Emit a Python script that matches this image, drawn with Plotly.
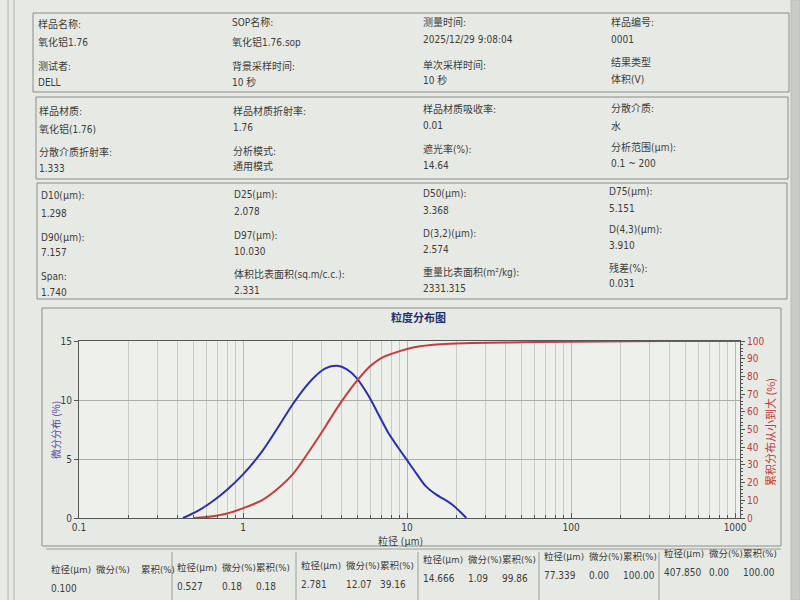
import re
import plotly.graph_objects as go

# ---------------- data ----------------
diff_x = [0.43, 0.53, 0.65, 0.8, 1.0, 1.3, 1.62, 2.0, 2.4, 2.8, 3.2, 3.75, 4.3, 4.9,
          5.8, 6.8, 7.7, 8.8, 10, 11.5, 13, 15, 17, 19, 21, 23]
diff_y = [0, 0.6, 1.4, 2.4, 3.7, 5.6, 7.6, 9.6, 11.1, 12.1, 12.7, 12.9, 12.6, 11.9,
          10.4, 8.6, 7.2, 6.0, 4.9, 3.7, 2.7, 2.0, 1.55, 1.1, 0.55, 0]

cum_x = [0.5, 0.6, 0.8, 1.0, 1.3, 1.6, 2.0, 2.5, 3.0, 3.4, 4.0, 5.0, 6.0, 7.0, 8.2,
         10, 12, 14, 17, 25, 50, 100, 400, 1250]
cum_y = [0, 0.5, 2.5, 5.5, 10, 16, 24.5, 37, 48, 56, 66, 78, 86, 90.5, 93,
         95.5, 97, 97.8, 98.3, 98.8, 99.3, 99.6, 100, 100]

x_tick_vals = [0.1, 1, 10, 100, 1000]
x_tick_text = ["0.1", "1", "10", "100", "1000"]

info_box1 = [
    ("样品名称:", "氧化铝1.76", "测试者:", "DELL"),
    ("SOP名称:", "氧化铝1.76.sop", "背景采样时间:", "10 秒"),
    ("测量时间:", "2025/12/29 9:08:04", "单次采样时间:", "10 秒"),
    ("样品编号:", "0001", "结果类型", "体积(V)"),
]
info_box2 = [
    ("样品材质:", "氧化铝(1.76)", "分散介质折射率:", "1.333"),
    ("样品材质折射率:", "1.76", "分析模式:", "通用模式"),
    ("样品材质吸收率:", "0.01", "遮光率(%):", "14.64"),
    ("分散介质:", "水", "分析范围(μm):", "0.1 ~ 200"),
]
info_box3 = [
    ("D10(μm):", "1.298", "D90(μm):", "7.157", "Span:", "1.740"),
    ("D25(μm):", "2.078", "D97(μm):", "10.030", "体积比表面积(sq.m/c.c.):", "2.331"),
    ("D50(μm):", "3.368", "D(3,2)(μm):", "2.574", "重量比表面积(m²/kg):", "2331.315"),
    ("D75(μm):", "5.151", "D(4,3)(μm):", "3.910", "残差(%):", "0.031"),
]
table_size = ["0.100", "0.527", "2.781", "14.666", "77.339", "407.850"]
table_diff = ["", "0.18", "12.07", "1.09", "0.00", "0.00"]
table_cum = ["", "0.18", "39.16", "99.86", "100.00", "100.00"]

# ---------------- helpers ----------------
W, H = 800, 600
def px(x):
    return x / W
def py(y):
    return 1 - y / H

CJK = "Noto Sans CJK SC"
NARROW = "'Liberation Sans Narrow','DejaVu Sans Condensed','Liberation Mono',monospace"
FONT = "Liberation Sans Narrow, DejaVu Sans Condensed, Noto Sans CJK SC, sans-serif"
TXT = "#3c3c3c"
annotations = []
shapes = []

def mixed(text, ascii_size):
    # narrow half-width ASCII next to full-width CJK, like the original report font
    parts = re.split(r"([\x20-\x7e²]+)", text)
    out = []
    for p in parts:
        if not p:
            continue
        if re.fullmatch(r"[\x20-\x7e²]+", p):
            out.append('<span style="font-family:%s;font-size:%spx">%s</span>' % (NARROW, ascii_size, p))
        else:
            out.append(p)
    return "".join(out)

def label(x, y, text, size=10, color=TXT, family=CJK, xanchor="left", **kw):
    annotations.append(dict(x=px(x), y=py(y), xref="paper", yref="paper", text=text,
                            showarrow=False, xanchor=xanchor, yanchor="middle",
                            borderpad=0, font=dict(size=size, color=color, family=family), **kw))

def rect(x0, y0, x1, y1, line="#8a8d88", fill=None, width=1):
    shapes.append(dict(type="rect", xref="paper", yref="paper", x0=px(x0), x1=px(x1),
                       y0=py(y1), y1=py(y0), line=dict(color=line, width=width),
                       fillcolor=fill, layer="below"))

def hline(x0, x1, y, color="#9a9d98"):
    shapes.append(dict(type="line", xref="paper", yref="paper", x0=px(x0), x1=px(x1),
                       y0=py(y), y1=py(y), line=dict(color=color, width=1)))

def vline(x, y0, y1, color="#9a9d98"):
    shapes.append(dict(type="line", xref="paper", yref="paper", x0=px(x), x1=px(x),
                       y0=py(y0), y1=py(y1), line=dict(color=color, width=1)))

# page edges
rect(791, 0, 800, 600, line="#b9bcb7", fill="#c9ccc6")
vline(8, 0, 600, "#b0b3ae")
vline(14, 0, 600, "#b0b3ae")

# info boxes
rect(33, 13, 789, 92)
rect(36, 97, 788, 179)
rect(37, 183, 787, 299)
rect(42, 308, 781, 546)

LBL = 10
VAL = 10
ASC = 10

col_x1 = [37, 231, 422, 610]
row_y1 = [(23, 41, 66, 82), (22, 41, 65, 81), (22, 40, 64, 80), (21, 40, 62, 79)]
for cx, ry, vals in zip(col_x1, row_y1, info_box1):
    label(cx, ry[0], mixed(vals[0], ASC), size=LBL)
    label(cx, ry[1], mixed(vals[1], VAL), size=LBL)
    label(cx, ry[2], mixed(vals[2], ASC), size=LBL)
    label(cx, ry[3], mixed(vals[3], VAL), size=LBL)

col_x2 = [38, 232, 422, 610]
row_y2 = [(110, 128, 151, 168), (110, 127, 150, 166), (109, 126, 148, 165), (108, 125, 146, 163)]
for cx, ry, vals in zip(col_x2, row_y2, info_box2):
    label(cx, ry[0], mixed(vals[0], ASC), size=LBL)
    label(cx, ry[1], mixed(vals[1], VAL), size=LBL)
    label(cx, ry[2], mixed(vals[2], ASC), size=LBL)
    label(cx, ry[3], mixed(vals[3], VAL), size=LBL)

col_x3 = [40, 233, 422, 608]
row_y3 = [(195, 213, 236, 253, 276, 292), (194, 212, 234, 251, 273, 290),
          (192, 210, 232, 249, 271, 288), (190, 208, 229, 246, 267, 283)]
for cx, ry, vals in zip(col_x3, row_y3, info_box3):
    for k in range(6):
        label(cx, ry[k], mixed(vals[k], ASC if k % 2 == 0 else VAL), size=LBL)

# chart texts
label(418, 317, "<b>粒度分布图</b>", size=11, color="#1f2f6e", xanchor="center")
label(55, 430, "微分分布 (%)", size=10, color="#5a3fa6", xanchor="center", textangle=-90)
label(770, 432, "累积分布从小到大 (%)", size=11, color="#c23a3a", xanchor="center", textangle=-90)
label(400, 540, mixed("粒径 (μm)", 10), size=10, color=TXT, xanchor="center")

# bottom table
hline(46, 781, 549)
group_x = [50, 176, 300, 422, 543, 663]
head_y = [569, 567, 565, 559, 556, 553]
val_y = [588, 586, 584, 578, 575, 572]
for i, gx in enumerate(group_x):
    if i > 0:
        vline(gx - 4, 552, 600)
    c2 = gx + 45
    c3 = gx + 90 if i == 0 else gx + 79
    label(gx, head_y[i], mixed("粒径(μm)", 9.5), size=9.5)
    label(c2, head_y[i], mixed("微分(%)", 9.5), size=9.5)
    label(c3, head_y[i], mixed("累积(%)", 9.5), size=9.5)
    label(gx, val_y[i], mixed(table_size[i], 10), size=10)
    label(c2, val_y[i], mixed(table_diff[i], 10), size=10)
    label(c3, val_y[i], mixed(table_cum[i], 10), size=10)

# ---------------- figure ----------------
fig = go.Figure()
fig.add_trace(go.Scatter(x=diff_x, y=diff_y, mode="lines", line=dict(color="#2b2fb0", width=2, shape="spline"),
                         yaxis="y", showlegend=False))
fig.add_trace(go.Scatter(x=cum_x, y=cum_y, mode="lines", line=dict(color="#c83a3e", width=2, shape="spline"),
                         yaxis="y2", showlegend=False))

fig.update_layout(
    width=W, height=H,
    margin=dict(l=0, r=0, t=0, b=0, pad=0, autoexpand=False),
    showlegend=False,
    paper_bgcolor="#e7eae4",
    plot_bgcolor="#eef0ec",
    font=dict(family=FONT, color=TXT),
    annotations=annotations,
    shapes=shapes,
    xaxis=dict(
        type="log", range=[-1, 3.03], domain=[px(79), px(740)],
        anchor="y", automargin=False,
        tickvals=x_tick_vals, ticktext=x_tick_text,
        tickfont=dict(size=10, color=TXT, family=FONT),
        showline=True, linecolor="#555", linewidth=1, mirror=True,
        showgrid=True, gridcolor="#b8bbb6", gridwidth=1,
        ticks="inside", ticklen=5, tickcolor="#555",
        minor=dict(dtick="D1", showgrid=True, gridcolor="#c9ccc6", ticks="inside",
                   ticklen=3, tickcolor="#555"),
        zeroline=False,
    ),
    yaxis=dict(
        range=[0, 15], domain=[py(518), py(341)], dtick=5, automargin=False,
        tickfont=dict(size=10, color=TXT, family=FONT),
        showline=True, linecolor="#555", linewidth=1,
        showgrid=True, gridcolor="#a9aca7",
        ticks="outside", ticklen=4, tickcolor="#555",
        zeroline=False,
    ),
    yaxis2=dict(
        range=[0, 100], overlaying="y", side="right", anchor="x", dtick=10, automargin=False,
        tickfont=dict(size=10, color="#c23a3a", family=FONT),
        showline=True, linecolor="#555", linewidth=1,
        showgrid=False, ticks="outside", ticklen=4, tickcolor="#555",
        minor=dict(dtick=2, ticks="outside", ticklen=2, tickcolor="#555"),
        zeroline=False,
    ),
)

fig.write_html("out.html", config={"displayModeBar": False},
               post_script="document.body.style.margin='0px';document.body.style.overflow='hidden';")
